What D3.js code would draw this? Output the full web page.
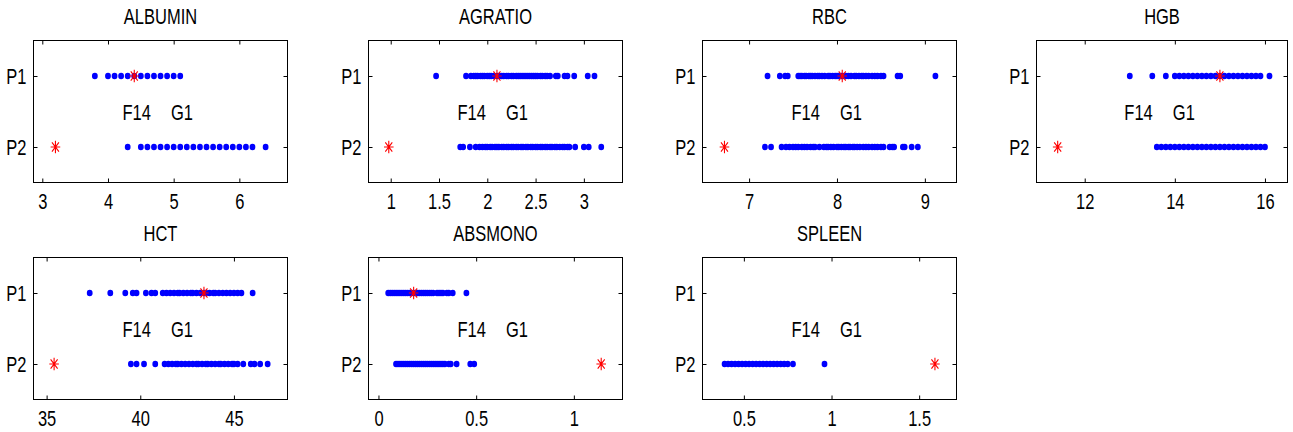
<!DOCTYPE html>
<html><head><meta charset="utf-8">
<script src="https://cdn.jsdelivr.net/npm/d3@7"></script>
<style>
html,body{margin:0;padding:0;background:#fff;}
svg{display:block;}
text{font-family:"Liberation Sans",Arial,Helvetica,sans-serif;fill:#000;}
</style></head>
<body>
<svg id="chart" width="1293" height="432"></svg>
<script>
// ---- data ----
const titles = ["ALBUMIN","AGRATIO","RBC","HGB","HCT","ABSMONO","SPLEEN"];
const rowLabels = ["P1","P2"];
const annotations = ["F14","G1"];
const xLimits = [[2.866,6.733],[0.77,3.40],[6.47,9.36],[10.93,16.50],[34.3,47.86],[-0.051,1.249],[0.264,1.713]];
const xTicks = [[3,4,5,6],[1,1.5,2,2.5,3],[7,8,9],[12,14,16],[35,40,45],[0,0.5,1],[0.5,1,1.5]];

const albuminP1 = [3.8,4.0,4.1,4.2,4.3,4.4,4.5,4.6,4.7,4.8,4.9,5.0,5.1];
const albuminP2 = [4.3,4.5,4.6,4.7,4.8,4.9,5.0,5.1,5.2,5.3,5.4,5.5,5.6,5.7,5.8,5.9,6.0,6.1,6.2,6.4];
const agratioP1 = [1.47,1.78,1.83,1.86,1.88,1.9,1.93,1.95,1.97,2.0,2.02,2.04,2.07,2.1,2.12,2.15,2.17,2.2,2.22,2.25,2.27,2.3,2.32,2.34,2.36,2.38,2.4,2.42,2.44,2.46,2.48,2.5,2.52,2.55,2.57,2.6,2.62,2.65,2.71,2.73,2.8,2.83,2.9,3.04,3.11];
const agratioP2 = [1.72,1.75,1.82,1.88,1.92,1.95,1.98,2.0,2.03,2.05,2.08,2.1,2.12,2.15,2.17,2.2,2.22,2.25,2.27,2.3,2.32,2.35,2.37,2.4,2.42,2.45,2.47,2.5,2.52,2.55,2.57,2.6,2.62,2.65,2.67,2.7,2.72,2.75,2.78,2.8,2.83,2.85,2.91,3.0,3.05,3.18];
const rbcP1 = [7.21,7.35,7.41,7.44,7.56,7.58,7.6,7.63,7.65,7.68,7.7,7.72,7.75,7.78,7.8,7.83,7.86,7.9,7.92,7.95,7.98,8.0,8.02,8.05,8.08,8.1,8.13,8.16,8.2,8.22,8.25,8.28,8.3,8.33,8.36,8.4,8.43,8.46,8.5,8.53,8.69,8.72,9.12];
const rbcP2 = [7.18,7.25,7.37,7.42,7.46,7.5,7.53,7.56,7.6,7.63,7.66,7.7,7.73,7.75,7.8,7.85,7.88,7.9,7.93,7.96,8.0,8.02,8.05,8.08,8.1,8.13,8.15,8.18,8.2,8.23,8.26,8.3,8.33,8.36,8.4,8.43,8.46,8.5,8.53,8.6,8.63,8.65,8.75,8.77,8.85,8.92];
const hgbP1 = [13.0,13.5,13.8,14.0,14.1,14.2,14.3,14.4,14.5,14.6,14.7,14.8,14.9,15.0,15.1,15.2,15.3,15.4,15.5,15.6,15.7,15.8,15.9,16.1];
const hgbP2 = [13.6,13.7,13.8,13.9,14.0,14.1,14.2,14.3,14.4,14.5,14.6,14.7,14.8,14.9,15.0,15.1,15.2,15.3,15.4,15.5,15.6,15.7,15.8,15.9,16.0];
const hctP1 = [37.3,38.4,39.2,39.6,39.8,40.3,40.6,40.8,41.2,41.4,41.6,41.8,42.0,42.1,42.3,42.5,42.7,42.8,43.0,43.2,43.4,43.5,43.7,43.9,44.0,44.2,44.4,44.6,44.8,45.0,45.2,45.4,46.0];
const hctP2 = [39.5,39.8,40.2,40.8,41.3,41.5,41.7,41.9,42.0,42.2,42.4,42.6,42.8,43.0,43.1,43.3,43.5,43.6,43.8,44.0,44.2,44.3,44.5,44.7,44.9,45.0,45.2,45.5,45.9,46.1,46.4,46.8];
const absmonoP1 = [0.05,0.06,0.07,0.08,0.09,0.1,0.11,0.12,0.13,0.14,0.15,0.16,0.17,0.18,0.19,0.2,0.21,0.22,0.23,0.24,0.25,0.26,0.27,0.28,0.3,0.31,0.32,0.33,0.35,0.36,0.38,0.45];
const absmonoP2 = [0.09,0.1,0.11,0.12,0.13,0.14,0.15,0.16,0.17,0.18,0.19,0.2,0.21,0.22,0.23,0.24,0.25,0.26,0.27,0.28,0.29,0.3,0.31,0.32,0.33,0.34,0.36,0.37,0.4,0.47,0.49];
const spleenP1 = [];
const spleenP2 = [0.39,0.41,0.43,0.45,0.47,0.49,0.51,0.53,0.55,0.57,0.59,0.61,0.63,0.65,0.67,0.69,0.71,0.73,0.75,0.78,0.96];

const p1Series = [albuminP1,agratioP1,rbcP1,hgbP1,hctP1,absmonoP1,spleenP1];
const p2Series = [albuminP2,agratioP2,rbcP2,hgbP2,hctP2,absmonoP2,spleenP2];
const starP1 = [4.4,2.1,8.06,15.0,43.4,0.18,null];
const starP2 = [3.2,0.98,6.72,11.4,35.4,1.14,1.59];

// ---- layout ----
const colLeft = [33.5,368.5,702.5,1036.5];
const colWidth = [254,254,254,251];
const rowTop = [40.5,257.5];
const panelH = 142;
const FS = 16.5, SY = 1.3;

const svg = d3.select("#chart");
svg.append("rect").attr("width",1293).attr("height",432).attr("fill","#fff");

titles.forEach((title,i)=>{
  const c = i%4, r = Math.floor(i/4);
  const w = colWidth[c];
  const g = svg.append("g").attr("transform",`translate(${colLeft[c]},${rowTop[r]})`);
  const x = d3.scaleLinear().domain(xLimits[i]).range([0,w]);
  const y = d3.scalePoint().domain(rowLabels).range([panelH*0.25,panelH*0.75]);

  // axes
  const ax = g.append("g").attr("transform",`translate(0,${panelH})`)
    .call(d3.axisBottom(x).tickValues(xTicks[i]).tickSizeInner(-4).tickSizeOuter(0).tickFormat(d=>String(d)));
  ax.selectAll("text").attr("y",null).attr("dy",null)
    .attr("transform",`translate(0,26) scale(1,${SY})`).style("font-size",FS+"px");
  g.append("g").call(d3.axisTop(x).tickValues(xTicks[i]).tickSizeInner(-4).tickSizeOuter(0).tickFormat(""));
  const ay = g.append("g").call(d3.axisLeft(y).tickSizeInner(-4).tickSizeOuter(0));
  ay.selectAll("text").attr("x",null).attr("dy",null)
    .attr("transform",`translate(-7,7.5) scale(1,${SY})`).style("font-size",FS+"px");
  g.append("g").attr("transform",`translate(${w},0)`).call(d3.axisRight(y).tickSizeInner(-4).tickSizeOuter(0).tickFormat(""));
  g.selectAll(".domain").remove();
  g.selectAll(".tick line").attr("stroke","#000");
  g.selectAll(".tick text").attr("fill","#000").style("font-family",'"Liberation Sans",Arial,sans-serif');

  g.append("rect").attr("x",0).attr("y",0).attr("width",w).attr("height",panelH)
    .attr("fill","none").attr("stroke","#000").attr("stroke-width",1);

  // title
  g.append("text").attr("text-anchor","middle")
    .attr("transform",`translate(${w/2},-16.5) scale(1,${SY})`)
    .style("font-size",FS+"px").text(title);

  // annotations
  const ymid = (y("P1")+y("P2"))/2 + 8.3;
  g.append("text").attr("transform",`translate(${w*0.35},${ymid}) scale(1,${SY})`)
    .style("font-size",FS+"px").text(annotations[0]);
  g.append("text").attr("transform",`translate(${w*0.35+48.5},${ymid}) scale(1,${SY})`)
    .style("font-size",FS+"px").text(annotations[1]);

  // dots
  const clip = "clip"+i;
  g.append("clipPath").attr("id",clip).append("rect").attr("width",w).attr("height",panelH);
  const dg = g.append("g").attr("clip-path",`url(#${clip})`);
  [[p1Series[i],"P1"],[p2Series[i],"P2"]].forEach(([vals,lab])=>{
    dg.selectAll(null).data(vals).enter().append("ellipse")
      .attr("cx",d=>x(d)).attr("cy",y(lab)).attr("rx",2.9).attr("ry",3.3).attr("fill","#0000ff");
  });
  // stars
  const starPath = "M-4.8,0H4.8M0,-6.2V6.2M-3.5,-4.6L3.5,4.6M-3.5,4.6L3.5,-4.6";
  [[starP1[i],"P1"],[starP2[i],"P2"]].forEach(([v,lab])=>{
    if(v==null) return;
    dg.append("path").attr("d",starPath).attr("transform",`translate(${x(v)},${y(lab)})`)
      .attr("stroke","#ff0000").attr("stroke-width",1.1).attr("fill","none");
  });
});
</script>
</body></html>
